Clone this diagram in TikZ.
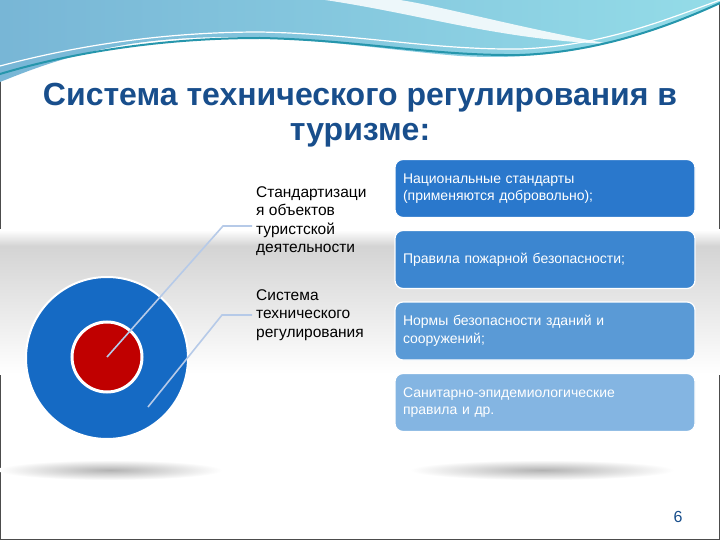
\documentclass[tikz,border=0pt]{standalone}
\usepackage{fontspec}
\setmainfont{Liberation Sans}
\usepackage{tikz}
\usetikzlibrary{positioning}
\definecolor{TitleBlue}{RGB}{24,78,140}
\definecolor{RingBlue}{RGB}{21,106,196}
\definecolor{CoreRed}{RGB}{192,0,0}
\definecolor{LeaderBlue}{RGB}{182,202,232}
\definecolor{WaveLeft}{RGB}{120,182,214}
\definecolor{WaveRight}{RGB}{148,220,232}
\definecolor{WaveLine}{RGB}{38,150,172}
\definecolor{BoxA}{RGB}{42,120,204}
\definecolor{BoxB}{RGB}{60,134,208}
\definecolor{BoxC}{RGB}{90,154,214}
\definecolor{BoxD}{RGB}{132,181,226}
\tikzset{
    Box/.style = {rounded corners=8pt, draw=white, line width=1.2pt, text=white,
        minimum width=300pt, minimum height=58pt, text width=284pt,
        align=left, inner xsep=8pt, font=\fontsize{14}{17.5}\selectfont},
    Caption/.style = {anchor=north west, align=left, inner xsep=4pt, inner ysep=0pt,
        font=\fontsize{15.5}{18.5}\selectfont},
    Leader/.style = {draw=LeaderBlue, line width=1.6pt},
    Shadow/.style = {inner color=black!30, outer color=white}
}
\begin{document}
\begin{tikzpicture}[x=1pt,y=-1pt]
        \useasboundingbox (0,0) rectangle (720,540);
        \fill[white] (0,0) rectangle (720,540);
        \draw[gray!60!black, line width=1.2pt] (0.6,0.6) rectangle (719.4,539.4);
        % grey band behind the diagram
        \shade[top color=white, bottom color=black!17] (0,230) rectangle (720,246);
        \shade[top color=black!17, bottom color=white] (0,246) rectangle (720,374);
        % wave at the top
        \shade[left color=WaveLeft, right color=WaveRight]
            (0,0) -- (720,0) -- (720,4) .. controls (640,40) and (560,62) .. (460,56)
            .. controls (360,48) and (250,26) .. (130,44)
            .. controls (70,54) and (30,70) .. (0,82) -- cycle;
        \fill[white, opacity=0.85] (325,0) .. controls (420,14) and (500,40) .. (610,44)
            .. controls (520,28) and (440,6) .. (400,0) -- cycle;
        \draw[WaveLine, line width=2pt] (0,74) .. controls (60,56) and (150,38) .. (260,38)
            .. controls (360,40) and (430,56) .. (520,55) .. controls (600,52) and (670,26) .. (720,3);
        \draw[white, line width=1.2pt] (0,66) .. controls (60,50) and (150,32) .. (260,32)
            .. controls (360,34) and (430,50) .. (520,49) .. controls (600,46) and (660,22) .. (720,0);
        % title
        \node[font=\bfseries\fontsize{32}{35}\selectfont, text=TitleBlue, align=center,
            anchor=north, inner sep=0pt] (title) at (360,83)
            {Система технического регулирования в\\туризме:};
        % shadows
        \shade[Shadow] (110,470) ellipse (112 and 10);
        \shade[Shadow] (542,470) ellipse (132 and 10);
        % circles
        \node[circle, fill=RingBlue, draw=white, line width=2pt, minimum size=162pt] (ring) at (107,358) {};
        \node[circle, fill=CoreRed, draw=white, line width=3pt, minimum size=70pt] (core) at (107,357) {};
        \node[Caption] (std) at (252,186) {Стандартизаци\\я объектов\\туристской\\деятельности};
        \node[Caption] (sys) at (252,289) {Система\\технического\\регулирования};
        \coordinate (k1) at (223,226);
        \coordinate (k2) at (222,315);
        \coordinate (ringpt) at (148,407);
        \draw[Leader] (core.center) -- (k1) -- (k1 -| std.west);
        \draw[Leader] (ringpt) -- (k2) -- (k2 -| sys.west);
        % boxes on the right
        \foreach \i/\y/\c/\t in {1/188.5/BoxA/{Национальные стандарты\\(применяются добровольно);},
                                 2/259.5/BoxB/{Правила пожарной безопасности;},
                                 3/331/BoxC/{Нормы безопасности зданий и\\сооружений;},
                                 4/402.5/BoxD/{Санитарно-эпидемиологические\\правила и др.}}
            {\node[Box, fill=\c] (box\i) at (545,\y) {\t};}
        \node[font=\fontsize{16}{18}\selectfont, text=TitleBlue] (pnum) at (678,517) {6};
        \end{tikzpicture}
\end{document}
